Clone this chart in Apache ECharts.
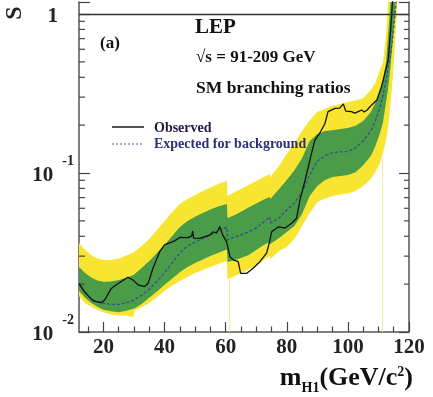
<!DOCTYPE html>
<html>
<head>
<meta charset="utf-8">
<title>LEP CLs vs mH1</title>
<script src="https://cdn.jsdelivr.net/npm/echarts@6/dist/echarts.min.js"></script>
<style>
  html, body { margin: 0; padding: 0; background: #fff; }
  #chart { width: 433px; height: 397px; }
</style>
</head>
<body>
<div id="chart"></div>
<script>
// mass grid shared by the bands and the expected curve (GeV/c2)
const bandMass = [12, 14, 16, 18, 20, 22.5, 25, 27.5, 29.8, 30.2, 32.5, 35, 37.5, 40, 42.5,
  45, 47.5, 50, 52.5, 55, 57.5, 60.4, 60.6, 63, 65, 67.5, 70, 72.5, 74.4, 74.6,
  77.5, 80, 82.5, 85, 87.5, 90, 92.5, 95, 97.5, 100, 102.5, 105, 107.5, 109, 110.5,
  111.5, 112.5, 113, 113.5, 114, 114.5, 115, 115.5, 116, 116.5];

// 95% band (yellow)
const yellowHi = [0.0363, 0.0328, 0.0305, 0.0290, 0.0284, 0.0284, 0.0290, 0.0303, 0.0316, 0.0321,
  0.0348, 0.0385, 0.0438, 0.0499, 0.0568, 0.0638, 0.0686, 0.0727, 0.0770, 0.0810,
  0.0853, 0.0891, 0.0717, 0.0759, 0.0793, 0.0840, 0.0891, 0.0944, 0.0986, 0.0944,
  0.111, 0.132, 0.154, 0.184, 0.215, 0.242, 0.254, 0.264, 0.272, 0.280,
  0.286, 0.296, 0.333, 0.368, 0.444, 0.499, 0.738, 1.03, 2, 2,
  2, 2, 2, 2, 2];
const yellowLo = [0.0168, 0.0152, 0.0144, 0.0138, 0.0133, 0.0129, 0.0127, 0.0127, 0.0124, 0.0136,
  0.0143, 0.0152, 0.0166, 0.0181, 0.0196, 0.0209, 0.0222, 0.0235, 0.0245, 0.0256,
  0.0268, 0.0280, 0.0215, 0.0225, 0.0234, 0.0247, 0.0260, 0.0284, 0.0301, 0.0288,
  0.0323, 0.0342, 0.0385, 0.0464, 0.0560, 0.0657, 0.0691, 0.0717, 0.0732, 0.0743,
  0.0770, 0.0828, 0.0917, 0.101, 0.116, 0.134, 0.161, 0.186, 0.222, 0.280,
  0.358, 0.492, 0.686, 0.986, 2];

// 68% band (green)
const greenHi = [0.0256, 0.0235, 0.0220, 0.0211, 0.0207, 0.0208, 0.0212, 0.0219, 0.0228, 0.0232,
  0.0253, 0.0280, 0.0314, 0.0353, 0.0402, 0.0457, 0.0499, 0.0531, 0.0560, 0.0589,
  0.0616, 0.0638, 0.0521, 0.0544, 0.0571, 0.0607, 0.0643, 0.0681, 0.0706, 0.0686,
  0.0793, 0.0904, 0.104, 0.124, 0.159, 0.176, 0.184, 0.186, 0.189, 0.192,
  0.198, 0.212, 0.242, 0.276, 0.323, 0.385, 0.499, 0.667, 0.891, 1.25,
  2, 2, 2, 2, 2];
const greenLo = [0.0181, 0.0164, 0.0152, 0.0144, 0.0138, 0.0135, 0.0133, 0.0136, 0.0140, 0.0141,
  0.0150, 0.0164, 0.0180, 0.0198, 0.0217, 0.0238, 0.0256, 0.0272, 0.0286, 0.0301,
  0.0314, 0.0330, 0.0276, 0.0284, 0.0292, 0.0305, 0.0328, 0.0353, 0.0368, 0.0358,
  0.0390, 0.0426, 0.0464, 0.0552, 0.0717, 0.0828, 0.0904, 0.0944, 0.0957, 0.0971,
  0.101, 0.112, 0.128, 0.148, 0.178, 0.209, 0.280, 0.323, 0.385, 0.485,
  0.620, 0.793, 1.06, 2, 2];

// expected for background
const expected = [0.0198, 0.0176, 0.0162, 0.0156, 0.0152, 0.0149, 0.0149, 0.0153, 0.0158, 0.0159,
  0.0170, 0.0186, 0.0209, 0.0235, 0.0272, 0.0314, 0.0348, 0.0368, 0.0387, 0.0407,
  0.0432, 0.0457, 0.0379, 0.0396, 0.0407, 0.0426, 0.0451, 0.0492, 0.0529, 0.0485,
  0.0521, 0.0585, 0.0648, 0.0759, 0.0971, 0.119, 0.128, 0.134, 0.136, 0.136,
  0.144, 0.159, 0.184, 0.212, 0.260, 0.309, 0.385, 0.438, 0.499, 0.560,
  0.667, 0.817, 1.03, 1.32, 2];

// observed
const obsMass = [12, 13.8, 16.6, 19.3, 20.4, 22.6, 24.8, 28, 29.7, 31.3,
  33.5, 34.6, 36.2, 38.4, 40, 43.3, 45, 47.7, 48.9, 49.2,
  49.5, 51.6, 54.9, 55.9, 57, 58.1, 59, 60.3, 61.4, 62.5,
  64.1, 64.9, 66.9, 69, 71.2, 73.4, 74.5, 75, 77.3, 79.4,
  81.6, 83.2, 84.3, 86, 88.1, 89.2, 90.8, 92.5, 93.5, 95.8,
  97.3, 98.5, 99.3, 101.2, 102.2, 103.4, 104.5, 105.3, 106.3, 107.8,
  109.5, 111, 112.1, 113.2, 114, 114.7];
const obsCLs = [0.0202, 0.0179, 0.0157, 0.0153, 0.0159, 0.0188, 0.0202, 0.0221, 0.0212, 0.0198,
  0.0193, 0.0202, 0.0252, 0.0320, 0.0353, 0.0374, 0.0393, 0.0392, 0.0402, 0.0432,
  0.0390, 0.0388, 0.0408, 0.0427, 0.0418, 0.0460, 0.0408, 0.0370, 0.0298, 0.0284,
  0.0277, 0.0234, 0.0234, 0.0252, 0.0277, 0.0313, 0.0379, 0.0427, 0.0459, 0.0451,
  0.0483, 0.0519, 0.0676, 0.0904, 0.133, 0.161, 0.178, 0.205, 0.243, 0.255,
  0.256, 0.272, 0.245, 0.243, 0.238, 0.243, 0.249, 0.242, 0.249, 0.268,
  0.288, 0.349, 0.424, 0.514, 0.793, 1.28];

// faint yellow slivers dropping to the axis
const sliverMass = [61.3, 111.3];
const sliverTop = [0.0215, 0.125];

// ticks
const xMajorTicks = [20, 40, 60, 80, 100, 120];
const xMinorTicks = [15, 25, 30, 35, 45, 50, 55, 65, 70, 75, 85, 90, 95, 105, 110, 115];
const yMinorTicks = [0.02, 0.03, 0.04, 0.05, 0.06, 0.07, 0.08, 0.09,
  0.2, 0.3, 0.4, 0.5, 0.6, 0.7, 0.8, 0.9];

const X_MIN = 12, X_MAX = 120, Y_MIN = 0.01, Y_MAX = 1.19;
const serif = '"Liberation Serif", "DejaVu Serif", serif';

function bandSeries (hi, lo, color) {
  return {
    type: 'custom',
    silent: true,
    clip: true,
    data: [[bandMass[0], lo[0]]],
    renderItem: function (params, api) {
      const pts = [];
      for (let i = 0; i < bandMass.length; i++) pts.push(api.coord([bandMass[i], hi[i]]));
      for (let i = bandMass.length - 1; i >= 0; i--) pts.push(api.coord([bandMass[i], lo[i]]));
      return { type: 'polygon', shape: { points: pts }, style: { fill: color } };
    }
  };
}

function yLabel (v) {
  const e = Math.log10(v);
  const n = Math.round(e);
  if (Math.abs(e - n) > 0.01) return '';
  if (n === 0) return '{one|1}';
  return '{b|10}{s|' + n + '}';
}

const chart = echarts.init(document.getElementById('chart'));

const option = {
  animation: false,
  backgroundColor: '#fff',
  grid: { left: 79, right: 24, top: 2, bottom: 65, containLabel: false, outerBoundsMode: 'none' },
  xAxis: [{
    type: 'value', min: X_MIN, max: X_MAX, position: 'bottom',
    axisLine: { lineStyle: { color: '#555', width: 1.5 } },
    axisTick: { inside: true, length: 10, customValues: xMajorTicks, lineStyle: { color: '#444', width: 1.2 } },
    axisLabel: { customValues: xMajorTicks, margin: 5, color: '#222', fontFamily: serif, fontWeight: 'bold', fontSize: 21 },
    splitLine: { show: false }
  }, {
    type: 'value', min: X_MIN, max: X_MAX, position: 'bottom',
    axisLine: { show: false },
    axisTick: { inside: true, length: 5.5, customValues: xMinorTicks, lineStyle: { color: '#444', width: 1.2 } },
    axisLabel: { show: false },
    splitLine: { show: false }
  }],
  yAxis: [{
    type: 'log', logBase: 10, min: Y_MIN, max: Y_MAX, position: 'left',
    axisLine: { lineStyle: { color: '#555', width: 1.5 } },
    axisTick: { inside: true, length: 11, lineStyle: { color: '#444', width: 1.2 } },
    axisLabel: {
      margin: 5,
      formatter: yLabel,
      rich: {
        b: { fontFamily: serif, fontWeight: 'bold', fontSize: 21, color: '#222', lineHeight: 22, padding: [5, 0, 0, 0] },
        one: { fontFamily: serif, fontWeight: 'bold', fontSize: 21, color: '#222', lineHeight: 22, padding: [5, 16, 0, 0] },
        s: { fontFamily: serif, fontWeight: 'bold', fontSize: 14, color: '#222', lineHeight: 14, padding: [0, 0, 24, 9] }
      }
    },
    splitLine: { show: false }
  }, {
    type: 'log', logBase: 10, min: Y_MIN, max: Y_MAX, position: 'right',
    axisLine: { show: true, lineStyle: { color: '#555', width: 1.5 } },
    axisTick: { inside: true, length: 10, lineStyle: { color: '#444', width: 1.2 } },
    axisLabel: { show: false },
    splitLine: { show: false }
  }],
  series: [
    bandSeries(yellowHi, yellowLo, '#f8e531'),
    bandSeries(greenHi, greenLo, '#4b9c48'),
    {
      type: 'custom',
      silent: true,
      clip: true,
      data: sliverMass.map((m, i) => [m, sliverTop[i]]),
      renderItem: function (params, api) {
        const a = api.coord([api.value(0), api.value(1)]);
        const b = api.coord([api.value(0), Y_MIN]);
        return { type: 'line', shape: { x1: a[0], y1: a[1], x2: b[0], y2: b[1] }, style: { stroke: '#f1ea9a', lineWidth: 1 } };
      }
    },
    {
      name: 'Expected for background',
      type: 'line',
      data: bandMass.map((m, i) => [m, expected[i]]),
      showSymbol: false,
      clip: true,
      lineStyle: { color: '#34479c', width: 1.2, type: [3, 2] }
    },
    {
      name: 'Observed',
      type: 'line',
      data: obsMass.map((m, i) => [m, obsCLs[i]]),
      showSymbol: false,
      clip: true,
      lineStyle: { color: '#111', width: 1.3 },
      markLine: {
        silent: true,
        symbol: 'none',
        label: { show: false },
        lineStyle: { color: '#333', width: 1.3, type: 'solid' },
        data: [{ yAxis: 1 }]
      }
    },
    {
      // log minor ticks on both vertical axes
      type: 'custom',
      silent: true,
      data: yMinorTicks.map(v => [X_MIN, v]),
      renderItem: function (params, api) {
        const l = api.coord([X_MIN, api.value(1)]);
        const r = api.coord([X_MAX, api.value(1)]);
        return {
          type: 'group',
          children: [
            { type: 'line', shape: { x1: l[0], y1: l[1], x2: l[0] + 6, y2: l[1] }, style: { stroke: '#444', lineWidth: 1.2 } },
            { type: 'line', shape: { x1: r[0] - 5, y1: r[1], x2: r[0], y2: r[1] }, style: { stroke: '#444', lineWidth: 1.2 } }
          ]
        };
      }
    }
  ],
  graphic: [
    { type: 'text', x: 15, y: 13, rotation: Math.PI / 2, z: 100,
      style: { text: 'S', font: 'bold 24px ' + serif, fill: '#222', align: 'center', verticalAlign: 'middle' } },
    { type: 'text', x: 195, y: 27.5, z: 100,
      style: { text: 'LEP', font: 'bold 21px ' + serif, fill: '#111', align: 'left', verticalAlign: 'middle' } },
    { type: 'text', x: 100, y: 43.5, z: 100,
      style: { text: '(a)', font: 'bold 17px ' + serif, fill: '#111', align: 'left', verticalAlign: 'middle' } },
    { type: 'text', x: 196, y: 58, z: 100,
      style: { text: '\u221As = 91-209 GeV', font: 'bold 17px ' + serif, fill: '#111', align: 'left', verticalAlign: 'middle' } },
    { type: 'text', x: 196, y: 88, z: 100,
      style: { text: 'SM branching ratios', font: 'bold 17.5px ' + serif, fill: '#111', align: 'left', verticalAlign: 'middle' } },
    { type: 'line', z: 100, shape: { x1: 112, y1: 127, x2: 144, y2: 127 }, style: { stroke: '#555', lineWidth: 2 } },
    { type: 'text', x: 154, y: 128, z: 100,
      style: { text: 'Observed', font: 'bold 14px ' + serif, fill: '#1c1c3c', align: 'left', verticalAlign: 'middle' } },
    { type: 'line', z: 100, shape: { x1: 112, y1: 144, x2: 144, y2: 144 }, style: { stroke: '#8d8dd2', lineWidth: 1.5, lineDash: [2, 2] } },
    { type: 'text', x: 154, y: 144, z: 100,
      style: { text: 'Expected for background', font: 'bold 14px ' + serif, fill: '#2c307c', align: 'left', verticalAlign: 'middle' } },
    { type: 'text', x: 413, y: 380, z: 100,
      style: {
        text: '{m|m}{sub|H1}{m|(GeV/c}{sup|2}{m|)}',
        align: 'right', verticalAlign: 'middle',
        rich: {
          m: { fontFamily: serif, fontWeight: 'bold', fontSize: 26, fill: '#111', lineHeight: 30, padding: [0, 0, 6, 0], verticalAlign: 'top' },
          sub: { fontFamily: serif, fontWeight: 'bold', fontSize: 14, fill: '#111', lineHeight: 14, verticalAlign: 'bottom' },
          sup: { fontFamily: serif, fontWeight: 'bold', fontSize: 14, fill: '#111', lineHeight: 14, verticalAlign: 'top' }
        }
      } }
  ]
};

chart.setOption(option);

window.addEventListener('resize', () => {
  chart.resize();
});
</script>
</body>
</html>
